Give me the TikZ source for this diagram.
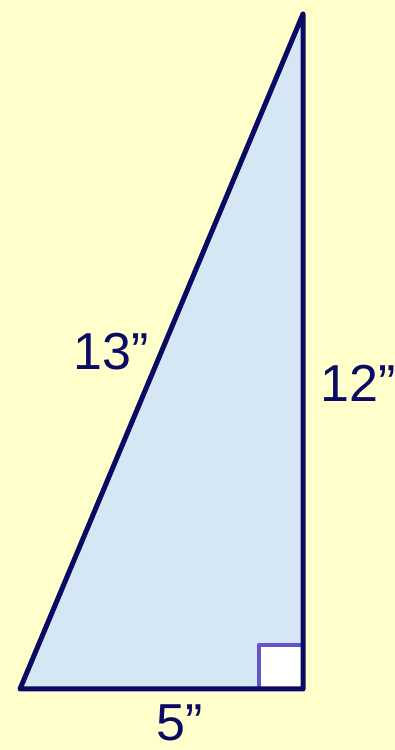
\documentclass[tikz,border=0pt]{standalone}
\usepackage{fontspec}
\setmainfont{Liberation Sans}
\usetikzlibrary{positioning}
\definecolor{bgyellow}{RGB}{255,255,204}
\definecolor{triblue}{RGB}{213,230,245}
\definecolor{edgenavy}{RGB}{10,10,100}
\definecolor{sqpurple}{RGB}{100,85,200}

\begin{document}
\begin{tikzpicture}[
  x=1pt, y=1pt,
  edge/.style={draw=edgenavy, line width=5pt, line join=round, line cap=round},
  side/.style={text=edgenavy, font=\fontsize{52}{52}\selectfont, inner sep=0pt},
]

% Background
\fill[bgyellow] (0,0) rectangle (395,750);
\useasboundingbox (0,0) rectangle (395,750);

% Corners
\coordinate (a) at (20,61);
\coordinate (b) at (303,61);
\coordinate (c) at (303,736);

% Triangle body
\fill[triblue] (a) -- (b) -- (c) -- cycle;

% Right angle mark
\filldraw[fill=white, draw=sqpurple, line width=4.5pt, line join=round] (259,61) rectangle (303,105);

% Edges
\draw[edge] (a) -- (b) -- (c) -- cycle;

% Side lengths
\node[side] (hyp) at (111,398) {13”};
\node[side] (leg) at (358,367) {12”};
\node[side] (base) at (180,27) {5”};

\end{tikzpicture}
\end{document}
